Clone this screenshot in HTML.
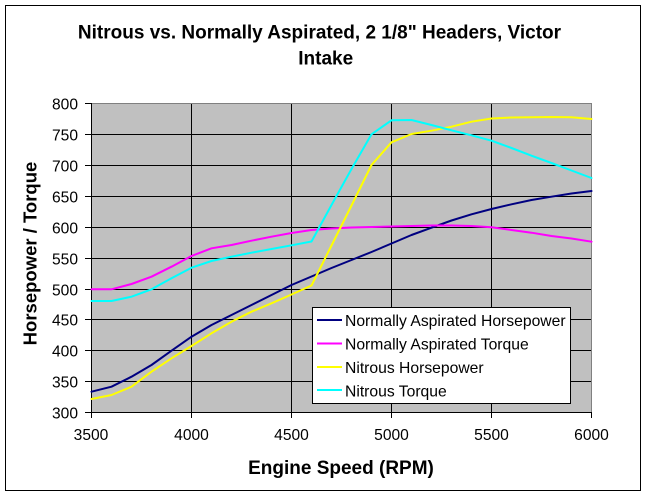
<!DOCTYPE html>
<html>
<head>
<meta charset="utf-8">
<style>
  html,body{margin:0;padding:0;background:#fff;}
  svg{display:block;}
  text{font-family:"Liberation Sans", Arial, sans-serif; fill:#000;}
</style>
</head>
<body>
<svg width="650" height="499" viewBox="0 0 650 499" xmlns="http://www.w3.org/2000/svg">
  <!-- chart area border -->
  <rect x="5.5" y="5.5" width="635" height="485" fill="#fff" stroke="#000" stroke-width="1"/>

  <!-- title -->
  <text x="319.5" y="38.3" font-size="19" font-weight="bold" text-anchor="middle">Nitrous vs. Normally Aspirated, 2 1/8" Headers, Victor</text>
  <text x="325.7" y="64.3" font-size="19" font-weight="bold" text-anchor="middle">Intake</text>

  <!-- plot background -->
  <rect x="91" y="103" width="500" height="309" fill="#C0C0C0"/>

  <!-- horizontal gridlines -->
  <g stroke="#000" stroke-width="1">
    <line x1="91" y1="134.5" x2="591" y2="134.5"/>
    <line x1="91" y1="165.5" x2="591" y2="165.5"/>
    <line x1="91" y1="196.5" x2="591" y2="196.5"/>
    <line x1="91" y1="227.5" x2="591" y2="227.5"/>
    <line x1="91" y1="258.5" x2="591" y2="258.5"/>
    <line x1="91" y1="289.5" x2="591" y2="289.5"/>
    <line x1="91" y1="319.5" x2="591" y2="319.5"/>
    <line x1="91" y1="350.5" x2="591" y2="350.5"/>
    <line x1="91" y1="381.5" x2="591" y2="381.5"/>
    <!-- vertical gridlines -->
    <line x1="191.5" y1="103" x2="191.5" y2="412"/>
    <line x1="291.5" y1="103" x2="291.5" y2="412"/>
    <line x1="391.5" y1="103" x2="391.5" y2="412"/>
    <line x1="491.5" y1="103" x2="491.5" y2="412"/>
  </g>

  <!-- plot area border (top/right gray) -->
  <g stroke="#808080" stroke-width="1">
    <line x1="91" y1="103.5" x2="592" y2="103.5"/>
    <line x1="591.5" y1="103" x2="591.5" y2="412"/>
  </g>

  <!-- axes & ticks -->
  <g stroke="#000" stroke-width="1">
    <line x1="91.5" y1="103" x2="91.5" y2="418"/>
    <line x1="85" y1="412.5" x2="592" y2="412.5"/>
    <line x1="85" y1="103.5" x2="91" y2="103.5"/>
    <line x1="85" y1="134.5" x2="91" y2="134.5"/>
    <line x1="85" y1="165.5" x2="91" y2="165.5"/>
    <line x1="85" y1="196.5" x2="91" y2="196.5"/>
    <line x1="85" y1="227.5" x2="91" y2="227.5"/>
    <line x1="85" y1="258.5" x2="91" y2="258.5"/>
    <line x1="85" y1="289.5" x2="91" y2="289.5"/>
    <line x1="85" y1="319.5" x2="91" y2="319.5"/>
    <line x1="85" y1="350.5" x2="91" y2="350.5"/>
    <line x1="85" y1="381.5" x2="91" y2="381.5"/>
    <line x1="191.5" y1="412" x2="191.5" y2="418"/>
    <line x1="291.5" y1="412" x2="291.5" y2="418"/>
    <line x1="391.5" y1="412" x2="391.5" y2="418"/>
    <line x1="491.5" y1="412" x2="491.5" y2="418"/>
    <line x1="591.5" y1="412" x2="591.5" y2="418"/>
  </g>

  <!-- y tick labels -->
  <g font-size="15.6" text-anchor="end">
    <text x="78" y="109.5">800</text>
    <text x="78" y="140.5">750</text>
    <text x="78" y="171.5">700</text>
    <text x="78" y="202.5">650</text>
    <text x="78" y="233.5">600</text>
    <text x="78" y="264.5">550</text>
    <text x="78" y="295.5">500</text>
    <text x="78" y="325.5">450</text>
    <text x="78" y="356.5">400</text>
    <text x="78" y="387.5">350</text>
    <text x="78" y="418.5">300</text>
  </g>

  <!-- x tick labels -->
  <g font-size="15.6" text-anchor="middle">
    <text x="91" y="440">3500</text>
    <text x="191.5" y="440">4000</text>
    <text x="291.5" y="440">4500</text>
    <text x="391.5" y="440">5000</text>
    <text x="491.5" y="440">5500</text>
    <text x="591.5" y="440">6000</text>
  </g>

  <!-- axis titles -->
  <text x="341" y="474" font-size="19" font-weight="bold" text-anchor="middle">Engine Speed (RPM)</text>
  <text transform="translate(36.7,253.5) rotate(-90)" font-size="18.5" font-weight="bold" text-anchor="middle">Horsepower / Torque</text>

  <!-- series -->
  <g fill="none" stroke-width="2" stroke-linejoin="round" stroke-linecap="round">
    <polyline stroke="#000080" points="91.5,391.7 111.5,386.7 131.5,376.7 151.5,365 171.5,350.7 191.5,336.7 211.5,325 231.5,315 251.5,305 271.5,295 291.5,285 311.5,276.5 331.5,268 351.5,260 371.5,252 391.5,243.5 411.5,235 431.5,227.7 451.5,220.5 471.5,214.3 491.5,209 511.5,204.3 531.5,200 551.5,196.7 571.5,193.5 591.5,191"/>
    <polyline stroke="#FF00FF" points="91.5,289.3 111.5,289.3 131.5,284 151.5,276.7 171.5,266.7 191.5,256 211.5,248.3 231.5,245 251.5,240.7 271.5,236.7 291.5,233 311.5,230 331.5,228.5 351.5,227.5 371.5,227 391.5,226.5 411.5,226 431.5,225.5 451.5,225.5 471.5,226 491.5,227.3 511.5,230 531.5,232.7 551.5,236 571.5,238.5 591.5,241.7"/>
    <polyline stroke="#FFFF00" points="91.5,399 111.5,395 131.5,386.7 151.5,371.7 171.5,358.3 191.5,346 211.5,333.3 231.5,321.7 251.5,311.7 271.5,303.3 291.5,294.5 311.5,285.5 331.5,245.5 351.5,205.5 371.5,165 391.5,142.3 411.5,134 431.5,130.7 451.5,126.7 471.5,121.7 491.5,118.5 511.5,117.5 531.5,117.3 551.5,117 571.5,117.3 591.5,119"/>
    <polyline stroke="#00FFFF" points="91.5,301 111.5,301 131.5,296.7 151.5,289.3 171.5,278.3 191.5,267.7 211.5,261 231.5,256.7 251.5,252.7 271.5,249 291.5,245.3 311.5,241.5 331.5,205 351.5,169 371.5,134.3 391.5,120.3 411.5,120 431.5,125 451.5,130.3 471.5,135.3 491.5,140.7 511.5,148 531.5,155.7 551.5,163 571.5,170.5 591.5,178"/>
  </g>

  <!-- legend -->
  <rect x="312.5" y="307.5" width="258" height="96" fill="#fff" stroke="#000" stroke-width="1"/>
  <g stroke-width="2">
    <line x1="317" y1="320" x2="342" y2="320" stroke="#000080"/>
    <line x1="317" y1="343.5" x2="342" y2="343.5" stroke="#FF00FF"/>
    <line x1="317" y1="367" x2="342" y2="367" stroke="#FFFF00"/>
    <line x1="317" y1="390" x2="342" y2="390" stroke="#00FFFF"/>
  </g>
  <g font-size="15.7">
    <text x="345" y="326">Normally Aspirated Horsepower</text>
    <text x="345" y="349.5">Normally Aspirated Torque</text>
    <text x="345" y="373">Nitrous Horsepower</text>
    <text x="345" y="396.5">Nitrous Torque</text>
  </g>
</svg>
</body>
</html>
